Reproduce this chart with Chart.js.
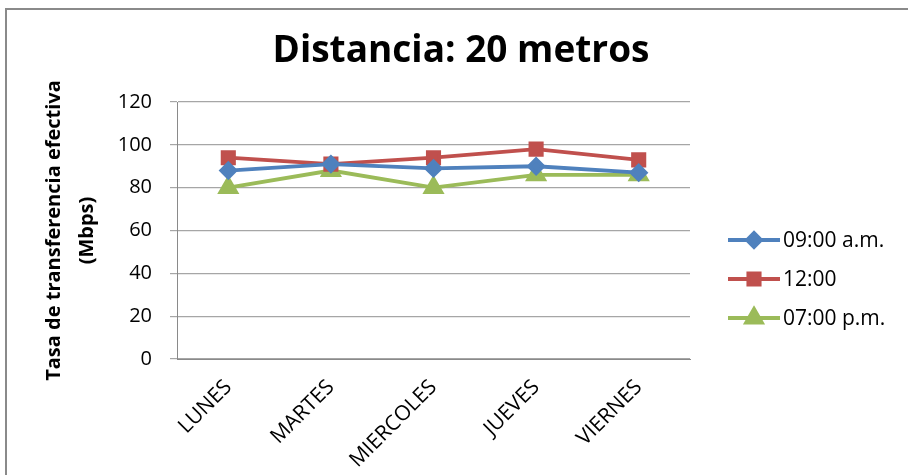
<!DOCTYPE html>
<html>
<head>
<meta charset="utf-8">
<script src="https://cdn.jsdelivr.net/npm/chart.js@4.4.1/dist/chart.umd.min.js"></script>
<style>
  body { margin: 0; background: #fff; }
  #wrap { position: relative; width: 908px; height: 475px; }
  #frame { position: absolute; left: 5px; top: 8px; right: -10px; bottom: -10px;
           border-top: 2px solid #8a8a8a; border-left: 2px solid #8a8a8a; pointer-events: none; }
</style>
</head>
<body>
<div id="wrap">
  <canvas id="mycanvas" width="908" height="475"></canvas>
  <div id="frame"></div>
</div>
<script>
// datos
var dias = ["LUNES", "MARTES", "MIERCOLES", "JUEVES", "VIERNES"];
var manana = [88, 91, 89, 90, 87];     // 09:00 a.m.
var mediodia = [94, 91, 94, 98, 93];   // 12:00
var tarde = [80, 88, 80, 86, 86];      // 07:00 p.m.
var yTicks = [0, 20, 40, 60, 80, 100, 120];
var titulo = 'Distancia: 20 metros';

var fuente = "'Open Sans', 'Liberation Sans', sans-serif";

// titulo y leyenda dibujados a mano (linea + marcador como en Excel)
var extras = {
  id: 'extras',
  afterDraw: function (chart) {
    var ctx = chart.ctx;
    ctx.save();
    ctx.fillStyle = '#000';
    ctx.font = 'bold 37px ' + fuente;
    ctx.textAlign = 'center';
    ctx.textBaseline = 'middle';
    ctx.fillText(titulo, 461, 51);
    ctx.restore();

    var x0 = 728, x1 = 780, y = 240, paso = 39;
    chart.data.datasets.forEach(function (ds, i) {
      var yy = y + i * paso;
      ctx.save();
      ctx.strokeStyle = ds.borderColor;
      ctx.lineWidth = ds.borderWidth;
      ctx.beginPath();
      ctx.moveTo(x0, yy);
      ctx.lineTo(x1, yy);
      ctx.stroke();
      ctx.fillStyle = ds.pointBackgroundColor;
      ctx.strokeStyle = ds.pointBackgroundColor;
      Chart.helpers.drawPoint(ctx, {
        pointStyle: ds.pointStyle,
        radius: ds.pointRadius,
        borderWidth: 1
      }, (x0 + x1) / 2, yy);
      ctx.fillStyle = '#000';
      ctx.font = '21px ' + fuente;
      ctx.textBaseline = 'middle';
      ctx.textAlign = 'left';
      ctx.fillText(ds.label, x1 + 3, yy + 1);
      ctx.restore();
    });
  }
};

var ctxL = document.getElementById("mycanvas").getContext('2d');
var myLineChart = new Chart(ctxL, {
  type: 'line',
  data: {
    labels: dias,
    datasets: [{
      label: "09:00 a.m.",
      data: manana,
      borderColor: '#4F81BD',
      backgroundColor: '#4F81BD',
      pointBackgroundColor: '#4F81BD',
      pointBorderColor: '#4F81BD',
      borderWidth: 3.8,
      pointStyle: 'rectRot',
      pointRadius: 7
    },
    {
      label: "12:00",
      data: mediodia,
      borderColor: '#C0504D',
      backgroundColor: '#C0504D',
      pointBackgroundColor: '#C0504D',
      pointBorderColor: '#C0504D',
      borderWidth: 3.8,
      pointStyle: 'rect',
      pointRadius: 8
    },
    {
      label: "07:00 p.m.",
      data: tarde,
      borderColor: '#9BBB59',
      backgroundColor: '#9BBB59',
      pointBackgroundColor: '#9BBB59',
      pointBorderColor: '#9BBB59',
      borderWidth: 3.8,
      pointStyle: 'triangle',
      pointRadius: 9
    }]
  },
  options: {
    responsive: false,
    animation: false,
    layout: { padding: { left: 0, right: 218, top: 102, bottom: 0 } },
    plugins: {
      legend: { display: false },
      tooltip: { enabled: false },
      title: { display: false }
    },
    scales: {
      x: {
        offset: true,
        grid: { display: false },
        border: { color: '#8a8a8a' },
        ticks: {
          color: '#000',
          font: { family: fuente, size: 21 },
          maxRotation: 45, minRotation: 45,
          padding: 8
        },
        afterFit: function (s) { s.height = 116; }
      },
      y: {
        min: 0, max: 120,
        afterBuildTicks: function (s) { s.ticks = yTicks.map(function (v) { return { value: v }; }); },
        grid: { color: '#a6a6a6', lineWidth: 1.2, tickLength: 7 },
        border: { color: '#8a8a8a' },
        ticks: {
          color: '#000',
          font: { family: fuente, size: 20 },
          padding: 18
        },
        title: {
          display: true,
          text: ['Tasa de transferencia efectiva', '(Mbps)'],
          color: '#000',
          font: { family: fuente, size: 20, weight: 'bold', lineHeight: 1.65 },
          padding: { top: 38, bottom: 8 }
        },
        afterFit: function (s) { s.width = 177; }
      }
    }
  },
  plugins: [extras]
});
</script>
</body>
</html>
